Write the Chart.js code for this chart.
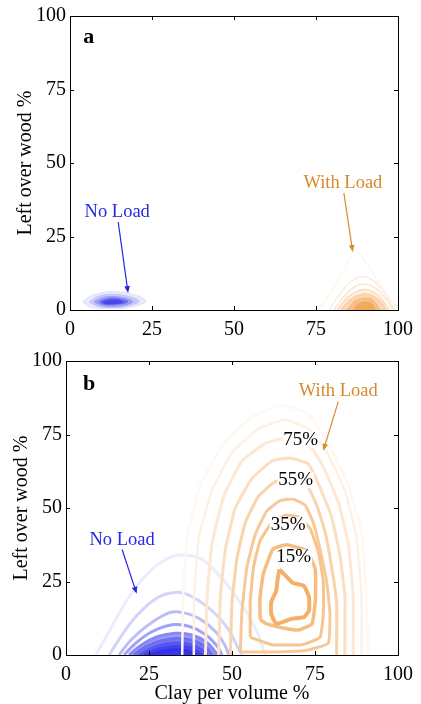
<!DOCTYPE html>
<html>
<head>
<meta charset="utf-8">
<script src="https://cdn.jsdelivr.net/npm/chart.js@4.4.0/dist/chart.umd.min.js"></script>
<style>
  body { margin: 0; background: #fff; }
  #boxA { position: absolute; left: 0; top: 0; width: 421px; height: 345px; }
  #boxB { position: absolute; left: 0; top: 345px; width: 421px; height: 359px; }
</style>
</head>
<body>
<div id="boxA"><canvas id="chartA" width="421" height="345"></canvas></div>
<div id="boxB"><canvas id="chartB" width="421" height="359"></canvas></div>
<script>
// axis ticks and texts
var xTicks = [0, 25, 50, 75, 100];
var yTicks = [0, 25, 50, 75, 100];
var xTitle = 'Clay per volume %';
var yTitle = 'Left over wood %';
var panelNames = ['a', 'b'];
var groupNames = ['No Load', 'With Load'];
var levelNames = ['15%', '35%', '55%', '75%'];

// contour rings, [clay %, left over wood %], outer -> inner
var aNoLoad = [
  [[4,2.8],[6.5,4.8],[12,6.2],[18,5.6],[23,3],[18,0.9],[12,0.5],[6.5,0.9],[4,2.8]],
  [[6,2.8],[8.5,4.5],[12,5.3],[17,4.8],[21,3],[17,1.3],[12,0.9],[8.5,1.3],[6,2.8]],
  [[7.5,2.8],[10,4.1],[13,4.5],[16.5,4],[19,2.8],[16,1.6],[12,1.3],[9.5,1.7],[7.5,2.8]],
  [[9,2.8],[11,3.6],[13,3.9],[16,3.5],[17.5,2.8],[15,2.1],[12,1.9],[10,2.1],[9,2.8]],
  [[10,2.7],[12,3.2],[14,3.3],[15.5,3],[16,2.6],[14,2.3],[12,2.2],[10.5,2.4],[10,2.7]]
];
var aWithLoad = [
  [[75.5,0],[79,5],[83,12.5],[87,20.3],[90,16.5],[94,9.5],[98,3],[100,1]],
  [[79,0],[82,5],[85.5,9.5],[89,11.3],[92.5,10],[96,5.5],[99,0]],
  [[80.5,0],[83.5,4.5],[87,8],[90,8.8],[93,7.5],[96.5,3.5],[98.5,0]],
  [[81.5,0],[84.5,4.2],[88,6.6],[91,6.8],[94,5],[96.5,1.5],[97.5,0]],
  [[82.5,0],[85.5,3.6],[89,5.4],[92,5],[95,2.4],[96.5,0]],
  [[84.5,0],[87,3],[89.5,4],[92,3.5],[94.5,0]],
  [[86.5,0],[88,2],[90,2.6],[92,2],[93,0]]
];
var bNoLoad = [
  [[9,0],[13,8],[18,18],[24,27],[30,32.5],[35,34],[41,32.5],[47,26],[53,17],[57.5,8],[60,0]],
  [[13,0],[17,7],[21,13],[27.5,19.5],[33,21.3],[38,19.8],[44.5,14.5],[49,8.5],[52,2],[53,0]],
  [[16,0],[19.5,5],[24.5,10],[31,14.3],[35,14.5],[40,12.5],[45,8],[48,3],[49,0]],
  [[17.5,0],[21,4],[26,8],[32,10.3],[37,9.8],[42,7],[45.5,3],[47,0]],
  [[19,0],[22.5,3.2],[27.5,6.2],[33,7.4],[38,6.8],[42.5,4.2],[45,1],[45.5,0]],
  [[20.5,0],[24,2.8],[28.5,4.8],[33,5.6],[38,5],[42,2.8],[44,0]],
  [[22,0],[25.5,2.2],[29.5,3.7],[33.5,4.2],[37.5,3.6],[41,1.7],[42.5,0]],
  [[23.5,0],[26.5,1.6],[30.5,2.7],[34,3],[37.5,2.4],[40,0.9],[41,0]],
  [[25,0],[28.5,1.1],[32,1.8],[35,1.8],[38,0.8],[39.5,0]]
];
var bWithLoad = [
  [[35,0],[35.3,20],[36.5,40],[40.5,58],[47.5,72],[56,81],[65,85],[73,82],[79,72],[85,58],[89,42],[90.5,20],[91,0]],
  [[38.5,0],[38.6,20],[40,40],[44,56],[50,69],[58,77],[66,80],[73,77],[78.5,69],[84,56],[87.5,40],[89,20],[89,0]],
  [[42,0],[42.5,20],[44,38],[47.5,54],[53,66],[60,72],[67,74],[73,72],[77.5,64],[82,52],[85,38],[86.5,20],[86.5,0]],
  [[46,0],[46.5,20],[48,36],[51,50],[56,60],[62,66],[67.5,67],[73,65],[76.5,57],[80,47],[82.5,34],[84,20],[84,0]],
  [[49.5,0],[50,18],[51.5,33],[54,45],[58,54],[63,59],[68,60],[72.5,58],[75.5,51],[78,42],[80,30],[81.5,18],[81.5,0]],
  [[52.5,1],[53,15],[54.5,30],[57,41],[60.5,49],[64.5,52.5],[68.5,53],[72,51],[74.5,45],[76.5,36],[78.5,25],[79.5,14],[79,4],[72,1.5],[62,1],[52.5,1]],
  [[55.5,6],[55.5,18],[56.5,30],[58.5,39],[62,45],[66,47.5],[70,47],[73.5,43],[76,35],[77.5,25],[77.5,14],[76.5,6],[71,3.5],[62,3.5],[55.5,6]],
  [[58.5,12],[58.4,19],[59.4,27.4],[62.3,36],[66.3,37.5],[70,36.5],[72.7,35.3],[75.1,29],[75.1,18.5],[74.1,10.6],[70,8.5],[66.3,9],[60.4,10.6],[58.5,12]],
  [[64.3,29.1],[66.3,26.8],[68.2,24.6],[71.7,23.5],[73.2,19.6],[73.2,15.1],[71.7,12.9],[67.8,12.3],[63.3,10.6],[61.8,14],[61.8,17.9],[63.3,21.8],[63.8,26.3],[64.3,29.1]]
];

var serif = "'Liberation Serif', 'Times New Roman', serif";
var blueText = '#2626e6';
var orangeText = '#d9892c';

// ring colours and widths, outer -> inner
var aBlueLine = ['#e4e4fc', '#c4c4f8', '#9a9af4', '#6c6cef', '#4848ea'];
var aBlueFill = ['#eaeafd', '#c8c8f8', '#9e9ef4', '#7070ef', '#4a4aea'];
var aOrangeLine = ['#fdf4ea', '#fcecdb', '#fbe4cc', '#fadcbc', '#f9d0a4', '#f6bc80', '#f3a95c'];
var aOrangeFill = [null, null, null, '#fdf0e2', '#fad8b2', '#f7c088', '#f3aa5e'];
var aOrangeWidth = [1.2, 1.5, 1.5, 1.5, 1.5, 1.5, 1.5];
var bBlueLine = ['#ececfd', '#d4d4fb', '#bcbcf9', '#a2a2f7', '#8888f5', '#6e6ef3', '#5858f1', '#4444ef', '#3232ed'];
var bBlueFill = [null, null, null, null, '#9c9cf6', '#7a7af4', '#6060f2', '#4a4af0', '#3636ee'];
var bOrangeLine = ['#fef8f1', '#fdf1e4', '#fce8d3', '#fbdfc0', '#fad3aa', '#f8c998', '#f8c48e', '#f7bd80', '#f4b067'];
var bOrangeWidth = [2.5, 2.5, 3, 3, 3, 3, 3, 3.5, 4];

function ringSets(rings, lines, fills, widths, tension, base) {
  return rings.map(function (r, i) {
    var f = fills && fills[i];
    return {
      data: r.map(function (p) { return { x: p[0], y: p[1] }; }),
      showLine: true,
      borderColor: lines[i],
      borderWidth: Array.isArray(widths) ? widths[i] : widths,
      backgroundColor: f ? f : 'transparent',
      fill: f ? 'shape' : false,
      pointRadius: 0,
      tension: tension,
      clip: 0,
      order: base - i
    };
  });
}

// frame with inward ticks on all four sides
var framePlugin = {
  id: 'frame',
  afterDraw: function (chart) {
    var ctx = chart.ctx, a = chart.chartArea, sx = chart.scales.x, sy = chart.scales.y;
    ctx.save();
    ctx.strokeStyle = '#000';
    ctx.lineWidth = 1;
    ctx.strokeRect(Math.round(a.left) + 0.5, Math.round(a.top) + 0.5,
      Math.round(a.right - a.left), Math.round(a.bottom - a.top));
    ctx.beginPath();
    xTicks.slice(1, -1).forEach(function (v) {
      var px = Math.round(sx.getPixelForValue(v)) + 0.5;
      ctx.moveTo(px, a.bottom); ctx.lineTo(px, a.bottom - 4);
      ctx.moveTo(px, a.top); ctx.lineTo(px, a.top + 4);
    });
    yTicks.slice(1, -1).forEach(function (v) {
      var py = Math.round(sy.getPixelForValue(v)) + 0.5;
      ctx.moveTo(a.left, py); ctx.lineTo(a.left + 4, py);
      ctx.moveTo(a.right, py); ctx.lineTo(a.right - 4, py);
    });
    ctx.stroke();
    ctx.restore();
  }
};

// texts and arrows placed in data coordinates
var notePlugin = {
  id: 'notes',
  afterDatasetsDraw: function (chart, args, opts) {
    var ctx = chart.ctx, sx = chart.scales.x, sy = chart.scales.y;
    ctx.save();
    (opts.arrows || []).forEach(function (ar) {
      var x1 = sx.getPixelForValue(ar.from[0]), y1 = sy.getPixelForValue(ar.from[1]);
      var x2 = sx.getPixelForValue(ar.to[0]), y2 = sy.getPixelForValue(ar.to[1]);
      var ang = Math.atan2(y2 - y1, x2 - x1);
      ctx.strokeStyle = ar.color; ctx.fillStyle = ar.color; ctx.lineWidth = 1.2;
      ctx.beginPath(); ctx.moveTo(x1, y1); ctx.lineTo(x2 - 5 * Math.cos(ang), y2 - 5 * Math.sin(ang)); ctx.stroke();
      ctx.beginPath();
      ctx.moveTo(x2, y2);
      ctx.lineTo(x2 - 7 * Math.cos(ang) + 2.8 * Math.sin(ang), y2 - 7 * Math.sin(ang) - 2.8 * Math.cos(ang));
      ctx.lineTo(x2 - 7 * Math.cos(ang) - 2.8 * Math.sin(ang), y2 - 7 * Math.sin(ang) + 2.8 * Math.cos(ang));
      ctx.closePath(); ctx.fill();
    });
    (opts.texts || []).forEach(function (t) {
      var px = sx.getPixelForValue(t.at[0]), py = sy.getPixelForValue(t.at[1]);
      ctx.font = t.font;
      ctx.textAlign = 'center';
      ctx.textBaseline = 'middle';
      if (t.clear) {
        var w = ctx.measureText(t.text).width;
        ctx.fillStyle = '#fff';
        ctx.fillRect(px - w / 2 - 1, py - 8, w + 2, 16);
      }
      ctx.fillStyle = t.color;
      ctx.fillText(t.text, px, py);
    });
    ctx.restore();
  }
};

function makeOptions(p) {
  return {
    responsive: false,
    animation: false,
    layout: { padding: { left: 0, right: 17, top: p.top, bottom: 0 } },
    plugins: {
      legend: { display: false },
      tooltip: { enabled: false },
      notes: { texts: p.texts, arrows: p.arrows }
    },
    scales: {
      x: {
        type: 'linear', min: 0, max: 100,
        afterBuildTicks: function (s) { s.ticks = xTicks.map(function (v) { return { value: v }; }); },
        afterFit: function (s) { s.height = p.xh; },
        grid: { display: false, drawTicks: false },
        border: { display: false },
        ticks: { color: '#000', font: { family: serif, size: 20 }, padding: 8, maxRotation: 0 },
        title: { display: p.showX, text: xTitle, color: '#000',
          font: { family: serif, size: 20, lineHeight: 1 }, padding: { top: 0, bottom: 0 } }
      },
      y: {
        type: 'linear', min: 0, max: 100,
        afterBuildTicks: function (s) { s.ticks = yTicks.map(function (v) { return { value: v }; }); },
        afterFit: function (s) { s.width = p.yw; },
        grid: { display: false, drawTicks: false },
        border: { display: false },
        ticks: { color: '#000', font: { family: serif, size: 20 }, padding: 4 },
        title: { display: true, text: yTitle, color: '#000',
          font: { family: serif, size: 20, lineHeight: 1 }, padding: { top: p.yt, bottom: 0 } }
      }
    }
  };
}

var groupFont = '18.5px ' + serif;
var panelFont = 'bold 22px ' + serif;
var levelFont = '19px ' + serif;

new Chart(document.getElementById('chartA'), {
  type: 'scatter',
  data: {
    datasets: ringSets(aWithLoad, aOrangeLine, aOrangeFill, aOrangeWidth, 0.3, 50)
      .concat(ringSets(aNoLoad, aBlueLine, aBlueFill, 1.5, 0.4, 100))
  },
  options: makeOptions({
    top: 16, xh: 35, yw: 70, yt: 16, showX: false,
    texts: [
      { text: panelNames[0], at: [5.7, 92.7], font: panelFont, color: '#000' },
      { text: groupNames[0], at: [14.4, 33.3], font: groupFont, color: blueText },
      { text: groupNames[1], at: [83.2, 43.2], font: groupFont, color: orangeText }
    ],
    arrows: [
      { from: [14.7, 29.9], to: [17.7, 5.8], color: blueText },
      { from: [83.5, 39.8], to: [86.2, 19.7], color: orangeText }
    ]
  }),
  plugins: [notePlugin, framePlugin]
});

new Chart(document.getElementById('chartB'), {
  type: 'scatter',
  data: {
    datasets: ringSets(bWithLoad, bOrangeLine, null, bOrangeWidth, 0.12, 50)
      .concat(ringSets(bNoLoad, bBlueLine, bBlueFill, 3, 0.4, 100))
  },
  options: makeOptions({
    top: 12, xh: 49, yw: 66, yt: 12, showX: true,
    texts: [
      { text: panelNames[1], at: [7.0, 92], font: panelFont, color: '#000' },
      { text: groupNames[0], at: [16.9, 38.9], font: groupFont, color: blueText },
      { text: groupNames[1], at: [82.0, 89.6], font: groupFont, color: orangeText },
      { text: levelNames[3], at: [70.7, 73.2], font: levelFont, color: '#000', clear: true },
      { text: levelNames[2], at: [69.2, 59.4], font: levelFont, color: '#000', clear: true },
      { text: levelNames[1], at: [66.9, 44.3], font: levelFont, color: '#000', clear: true },
      { text: levelNames[0], at: [68.6, 33.2], font: levelFont, color: '#000', clear: true }
    ],
    arrows: [
      { from: [16.9, 35.9], to: [21.3, 20.8], color: blueText },
      { from: [82.0, 86.2], to: [77.5, 69.5], color: orangeText }
    ]
  }),
  plugins: [notePlugin, framePlugin]
});
</script>
</body>
</html>
